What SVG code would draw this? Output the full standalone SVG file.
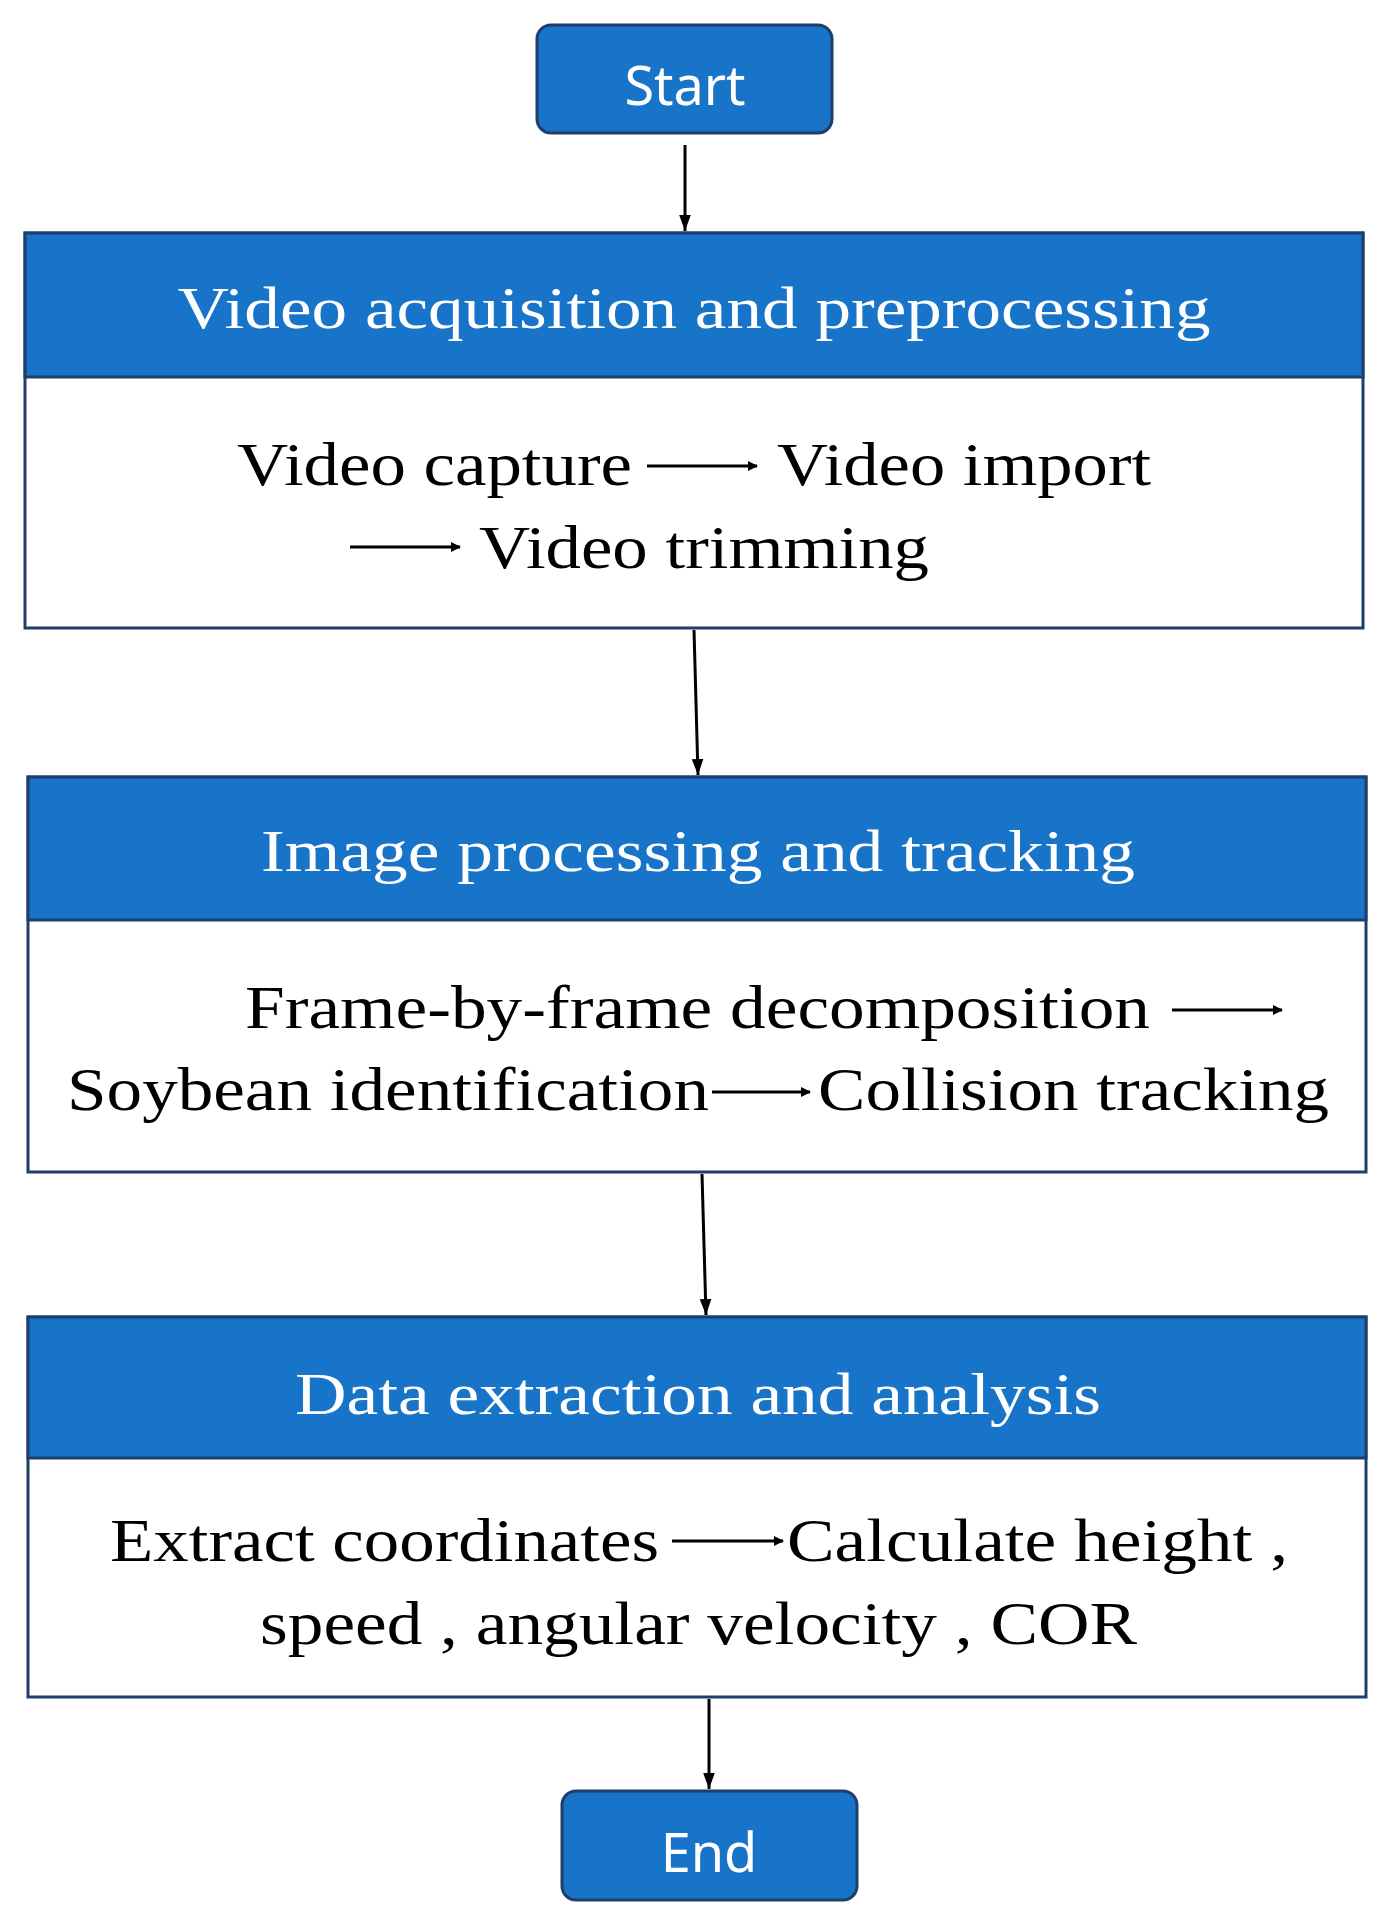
<svg xmlns="http://www.w3.org/2000/svg" width="1393" height="1922" viewBox="0 0 1393 1922">
<defs>
<marker id="ah" markerWidth="10" markerHeight="10" refX="9" refY="5" orient="auto" markerUnits="userSpaceOnUse" viewBox="0 0 10 10"><path d="M0,0 L10,5 L0,10 z" fill="#000"/></marker>
<marker id="bh" markerWidth="16" markerHeight="22" refX="22" refY="8" orient="auto" markerUnits="userSpaceOnUse" viewBox="0 0 22 16"><path d="M0,0 L22,8 L0,16 z" fill="#000"/></marker>
</defs>
<style>
.blue{fill:#1874C9;stroke:#1F3F6B;stroke-width:3}
.body{fill:#fff;stroke:#1F3F6B;stroke-width:3}
.hd{font-family:"Liberation Serif",serif;font-size:60px;fill:#fff;text-anchor:middle}
.tx{font-family:"Liberation Serif",serif;font-size:62px;fill:#000}
.sn{font-family:"Noto Sans","Open Sans",sans-serif;font-size:54px;fill:#fff;text-anchor:middle}
.ln{stroke:#000;stroke-width:3;fill:none}
.sa{stroke:#000;stroke-width:3;fill:none;marker-end:url(#ah)}
</style>
<rect width="1393" height="1922" fill="#fff"/>
<g id="start"><rect class="blue" x="537" y="25" width="295" height="108" rx="14"/><text class="sn" x="685" y="105">Start</text></g>
<g id="box1">
<rect class="body" x="25" y="233" width="1338" height="395"/>
<rect class="blue" x="25" y="233" width="1338" height="144"/>
<text class="hd" x="694" y="328" textLength="1033" lengthAdjust="spacingAndGlyphs">Video acquisition and preprocessing</text>
<text class="tx" x="237" y="485" textLength="395" lengthAdjust="spacingAndGlyphs">Video capture</text>
<line class="sa" x1="647" y1="466" x2="757" y2="466"/>
<text class="tx" x="777" y="485" textLength="374" lengthAdjust="spacingAndGlyphs">Video import</text>
<line class="sa" x1="350" y1="547" x2="460" y2="547"/>
<text class="tx" x="479" y="568" textLength="450" lengthAdjust="spacingAndGlyphs">Video trimming</text>
</g>
<g id="box2">
<rect class="body" x="28" y="777" width="1338" height="395"/>
<rect class="blue" x="28" y="777" width="1338" height="143"/>
<text class="hd" x="698" y="871" textLength="874" lengthAdjust="spacingAndGlyphs">Image processing and tracking</text>
<text class="tx" x="245" y="1028" textLength="905" lengthAdjust="spacingAndGlyphs">Frame-by-frame decomposition</text>
<line class="sa" x1="1172" y1="1010" x2="1282" y2="1010"/>
<text class="tx" x="67" y="1110" textLength="642" lengthAdjust="spacingAndGlyphs">Soybean identification</text>
<line class="sa" x1="712" y1="1092" x2="810" y2="1092"/>
<text class="tx" x="818" y="1110" textLength="511" lengthAdjust="spacingAndGlyphs">Collision tracking</text>
</g>
<g id="box3">
<rect class="body" x="28" y="1317" width="1338" height="380"/>
<rect class="blue" x="28" y="1317" width="1338" height="141"/>
<text class="hd" x="698" y="1414" textLength="806" lengthAdjust="spacingAndGlyphs">Data extraction and analysis</text>
<text class="tx" x="110" y="1561" textLength="549" lengthAdjust="spacingAndGlyphs">Extract coordinates</text>
<line class="sa" x1="672" y1="1541" x2="783" y2="1541"/>
<text class="tx" x="787" y="1561" textLength="501" lengthAdjust="spacingAndGlyphs">Calculate height ,</text>
<text class="tx" x="260" y="1644" textLength="877" lengthAdjust="spacingAndGlyphs">speed , angular velocity , COR</text>
</g>
<g id="end"><rect class="blue" x="562" y="1791" width="295" height="109" rx="14"/><text class="sn" x="709" y="1872">End</text></g>
<g id="connectors">
<line class="ln" x1="685" y1="145" x2="685" y2="231" marker-end="url(#bh)"/>
<line class="ln" x1="694" y1="630" x2="698" y2="775" marker-end="url(#bh)"/>
<line class="ln" x1="702" y1="1174" x2="706" y2="1315" marker-end="url(#bh)"/>
<line class="ln" x1="709" y1="1699" x2="709" y2="1789" marker-end="url(#bh)"/>
</g>
</svg>
